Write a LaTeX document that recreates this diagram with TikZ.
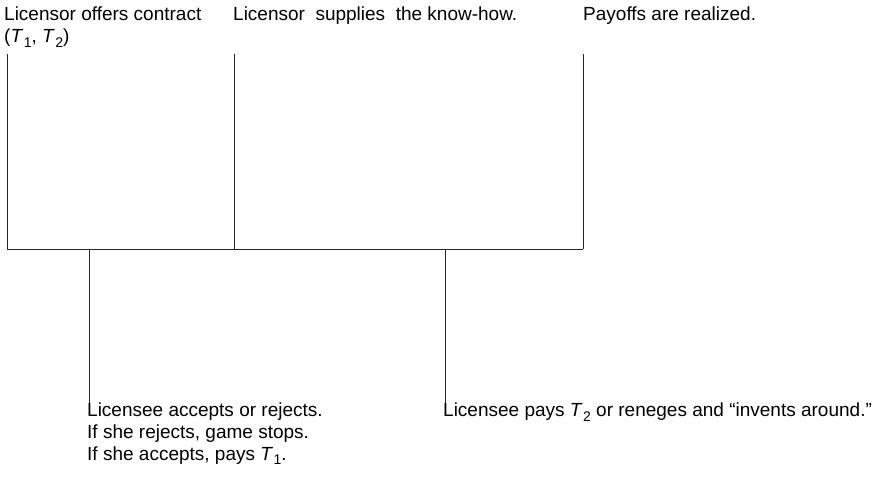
\documentclass[tikz,border=0pt]{standalone}
\usepackage{fontspec}
\setmainfont{Liberation Sans}
\newcommand{\Tsub}[1]{\textit{T}\kern0.5pt\raisebox{-4.5pt}{\fontsize{14}{14}\selectfont #1}}
\begin{document}
\begin{tikzpicture}[
  x=1pt, y=-1pt,
  font=\fontsize{19}{21.7}\selectfont,
  line/.style={draw, line width=0.8pt, black!85},
  event/.style={anchor=north west, inner sep=0pt, align=left}]

\useasboundingbox (0,0) rectangle (872,484);

% Points on the time line
\coordinate (t0) at (7,249);
\coordinate (t1) at (89,249);
\coordinate (t2) at (234,249);
\coordinate (t3) at (445,249);
\coordinate (t4) at (583,249);

% Free ends of the ticks
\coordinate (u0) at (7,54);
\coordinate (u2) at (234,54);
\coordinate (u4) at (583,54);
\coordinate (d1) at (89,403);
\coordinate (d3) at (445,403);

% Events above and below the line
\node[event] (offer) at (4,7) {Licensor offers contract \\ (\Tsub{1}, \Tsub{2})};
\node[event] (supply) at (233,7) {Licensor\ \ supplies\ \ the know-how.};
\node[event] (payoff) at (583,7) {Payoffs are realized.};
\node[event] (accept) at (87,403) {Licensee accepts or rejects. \\ If she rejects, game stops. \\ If she accepts, pays \Tsub{1}.};
\node[event] (pay) at (443,403) {Licensee pays \Tsub{2} or reneges and “invents around.”};

% Draw the time line and the ticks
\draw [line] (t0) -- (t4);
\draw [line] (u0) -- (t0);
\draw [line] (u2) -- (t2);
\draw [line] (u4) -- (t4);
\draw [line] (t1) -- (d1);
\draw [line] (t3) -- (d3);
\end{tikzpicture}
\end{document}
